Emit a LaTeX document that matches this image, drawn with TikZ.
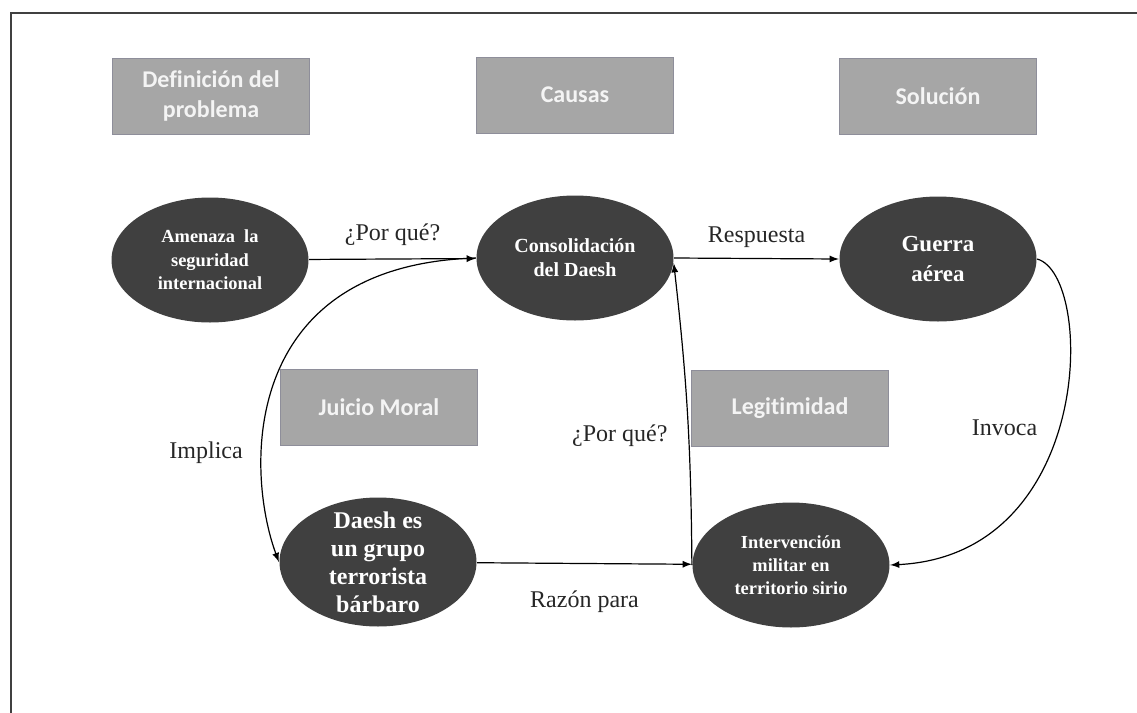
\documentclass[tikz,border=0pt]{standalone}
\usepackage{fontspec}
\setmainfont{Liberation Serif}
\newfontfamily\boxfont[Ligatures=NoCommon]{Carlito}
\usetikzlibrary{shapes.geometric}

\definecolor{boxgray}{HTML}{A6A6A6}
\definecolor{boxedge}{HTML}{8E8E9A}
\definecolor{ovalgray}{HTML}{404040}
\definecolor{boxtext}{HTML}{F4F4F4}

\begin{document}
\begin{tikzpicture}[x=0.5pt, y=-0.5pt, >=latex, semithick,
    frame/.style={draw=boxedge, thin, fill=boxgray, text=boxtext, align=center,
      minimum width=98.5pt, minimum height=38pt,
      font=\boxfont\bfseries\fontsize{12}{15}\selectfont},
    idea/.style={ellipse, fill=ovalgray, text=white, align=center, inner sep=0pt,
      minimum width=98.5pt, minimum height=62.5pt},
    tag/.style={text=black!85, font=\fontsize{12}{14}\selectfont}]
  \useasboundingbox (0,0) rectangle (1137,713);
  \draw[line width=1.2pt, black!75] (11,713) -- (11,13) -- (1137,13);

  % category boxes
  \node[frame] (problema) at (211,96) {Definición del\\problema};
  \node[frame] (causas) at (575,95) {Causas};
  \node[frame] (solucion) at (938,96) {Solución};
  \node[frame] (juicio) at (379,407) {Juicio Moral};
  \node[frame] (legit) at (790,408) {Legitimidad};

  % ideas
  \node[idea, font=\bfseries\fontsize{9.2}{11.75}\selectfont] (amenaza) at (210,260)
    {Amenaza\ \ la\\seguridad\\internacional};
  \node[idea, font=\bfseries\fontsize{10}{12}\selectfont] (consolid) at (575,258)
    {Consolidación\\del Daesh};
  \node[idea, font=\bfseries\fontsize{11.5}{15}\selectfont] (guerra) at (938,259)
    {Guerra\\aérea};
  \node[idea, inner ysep=-8pt, minimum height=64.5pt,
    font=\bfseries\fontsize{12}{14}\selectfont] (daesh) at (378,562)
    {Daesh es\\un grupo\\terrorista\\bárbaro};
  \node[idea, font=\bfseries\fontsize{9.2}{11.5}\selectfont] (interv) at (791,565)
    {Intervención\\militar en\\territorio sirio};

  % connectors
  \draw[->] (amenaza) to node[tag, above=3pt] {¿Por qué?} (consolid);
  \draw[->] (consolid.east) to node[tag, above=2pt] {Respuesta} (guerra.west);
  \draw[->] (consolid.west) .. controls (240,265) and (245,470) ..
    node[tag, pos=0.69, left=6pt] {Implica} (daesh.west);
  \draw[->] (daesh) to node[tag, below=10pt] {Razón para} (interv);
  \draw[->] (interv.west) to[bend right=3]
    node[tag, pos=0.42, left=7pt] {¿Por qué?} (consolid.-3);
  \draw[->] (guerra.east) .. controls (1095,275) and (1095,555) ..
    node[tag, pos=0.53, left=7pt] {Invoca} (interv.east);
\end{tikzpicture}
\end{document}
